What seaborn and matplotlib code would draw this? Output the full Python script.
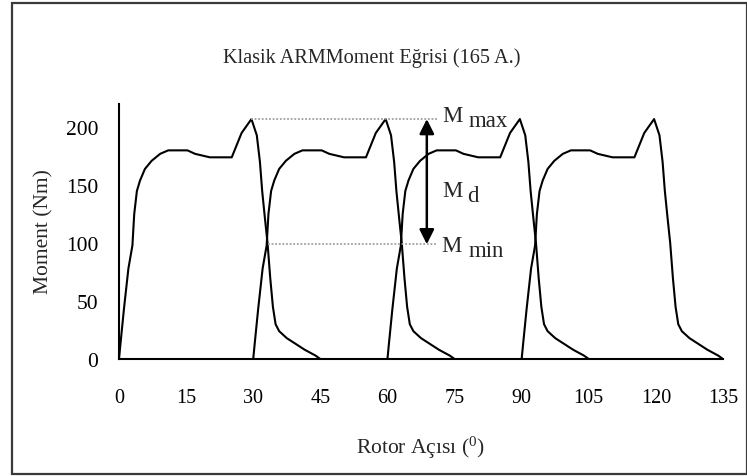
import matplotlib
matplotlib.use("Agg")
import matplotlib.pyplot as plt
from matplotlib.patches import Rectangle
import seaborn as sns
import pandas as pd

# ---- data ----
phase_a_angle = [0, 0.3, 1.1, 2.1, 3.0, 3.4, 4.0, 4.7, 5.8, 7.3, 9.2, 11.0, 15.3, 17.0, 20.3,
                 25.2, 27.4, 29.6, 30.8, 31.5, 32.0, 32.6, 33.2, 33.8, 34.4, 35.0, 35.8, 37.5,
                 39.5, 41.5, 43.9, 45.0]
phase_b_angle = [30, 30.3, 31.1, 32.1, 33.0, 33.4, 34.0, 34.7, 35.8, 37.3, 39.2, 41.0, 45.3, 47.0,
                 50.3, 55.2, 57.4, 59.6, 60.8, 61.5, 62.0, 62.6, 63.2, 63.8, 64.4, 65.0, 65.8,
                 67.5, 69.5, 71.5, 73.9, 75.0]
phase_c_angle = [60, 60.3, 61.1, 62.1, 63.0, 63.4, 64.0, 64.7, 65.8, 67.3, 69.2, 71.0, 75.3, 77.0,
                 80.3, 85.2, 87.4, 89.6, 90.8, 91.5, 92.0, 92.6, 93.2, 93.8, 94.4, 95.0, 95.8,
                 97.5, 99.5, 101.5, 103.9, 105.0]
phase_d_angle = [90, 90.3, 91.1, 92.1, 93.0, 93.4, 94.0, 94.7, 95.8, 97.3, 99.2, 101.0, 105.3,
                 107.0, 110.3, 115.2, 117.4, 119.6, 120.8, 121.5, 122.0, 122.6, 123.2, 123.8,
                 124.4, 125.0, 125.8, 127.5, 129.5, 131.5, 133.9, 135.0]
phase_moment = [0, 12, 43, 78, 98, 125, 145, 154, 164, 171, 177, 180, 180, 177, 174, 174, 195,
                207, 193, 170, 145, 122, 100, 70, 45, 30, 24, 18, 13, 8, 3, 0]

m_max = 207
m_min = 99
m_max_angle = 29.6
m_min_angle = 33.2
ref_line_end = 71
arrow_angle = 68.8

x_ticks = [0, 15, 30, 45, 60, 75, 90, 105, 120, 135]
y_ticks = [0, 50, 100, 150, 200]

title = "Klasik ARMMoment Eğrisi (165 A.)"
x_label = r"Rotor Açısı (${}^{0}$)"
y_label = "Moment (Nm)"

frames = []
for name, ang in [("A", phase_a_angle), ("B", phase_b_angle),
                  ("C", phase_c_angle), ("D", phase_d_angle)]:
    frames.append(pd.DataFrame({"angle": ang, "moment": phase_moment, "phase": name}))
df = pd.concat(frames, ignore_index=True)

# ---- style ----
sns.set_theme(style="white")
plt.rcParams["font.family"] = ["Liberation Serif", "DejaVu Serif"]
plt.rcParams["mathtext.fontset"] = "custom"
plt.rcParams["mathtext.rm"] = "Liberation Serif"
plt.rcParams["mathtext.it"] = "Liberation Serif"

W, H = 747, 477
fig = plt.figure(figsize=(W / 100, H / 100), dpi=100)
fig.patch.set_facecolor("white")
ax = fig.add_axes([119 / W, 1 - 360 / H, (723 - 119) / W, (360 - 105) / H])

sns.lineplot(data=df, x="angle", y="moment", units="phase", estimator=None,
             sort=False, color="black", linewidth=1.5, ax=ax, legend=False)

ax.set_xlim(0, 135)
ax.set_ylim(0, 220)
ax.set_xticks(x_ticks)
ax.set_yticks(y_ticks)
ax.set_xticklabels([str(v) for v in x_ticks])
ax.set_yticklabels([str(v) for v in y_ticks])
for s in ["top", "right"]:
    ax.spines[s].set_visible(False)
for s in ["left", "bottom"]:
    ax.spines[s].set_color("black")
    ax.spines[s].set_linewidth(1.5)
ax.tick_params(axis="both", direction="out", length=6, width=1.5, color="black",
               labelcolor="black")
ax.tick_params(axis="x", pad=15, labelsize=14.5)
ax.tick_params(axis="y", pad=9, labelsize=15.5)
ax.set_xlabel("")
ax.set_ylabel("")

# reference lines & arrow
ax.plot([m_max_angle, ref_line_end], [m_max, m_max], color="#a0a0a0", linestyle=(0, (1, 1)),
        linewidth=1.3)
ax.plot([m_min_angle, ref_line_end], [m_min, m_min], color="#a0a0a0", linestyle=(0, (1, 1)),
        linewidth=1.3)
ax.annotate("", xy=(arrow_angle, m_min), xytext=(arrow_angle, m_max),
            arrowprops=dict(arrowstyle="<|-|>", color="black", lw=1.8,
                            mutation_scale=22, shrinkA=0, shrinkB=0))

# labels M_max, M_d, M_min
fs_m = 16.5
ax.text(72.3, 205, "M", fontsize=fs_m, ha="left", va="baseline", clip_on=False)
ax.text(78.2, 201, "max", fontsize=fs_m, ha="left", va="baseline", clip_on=False)
ax.text(72.3, 141, "M", fontsize=fs_m, ha="left", va="baseline", clip_on=False)
ax.text(77.8, 136, "d", fontsize=fs_m, ha="left", va="baseline", clip_on=False)
ax.text(72.1, 93, "M", fontsize=fs_m, ha="left", va="baseline", clip_on=False)
ax.text(78.1, 89, "min", fontsize=fs_m, ha="left", va="baseline", clip_on=False)

# title and axis labels
fig.text(372 / W, 1 - 58 / H, title, fontsize=14.6, ha="center", va="center")
fig.text(420 / W, 1 - 448 / H, x_label, fontsize=15.5, ha="center", va="center")
fig.text(44 / W, 1 - 232 / H, y_label, fontsize=15.5, ha="center", va="center", rotation=90)

# outer frame
fig.add_artist(Rectangle((12 / W, 2 / H), (W - 12) / W, (473 - 2) / H,
                         transform=fig.transFigure, fill=False,
                         edgecolor="#3a3a3a", linewidth=1.6))

fig.savefig("out.png", dpi=100)
